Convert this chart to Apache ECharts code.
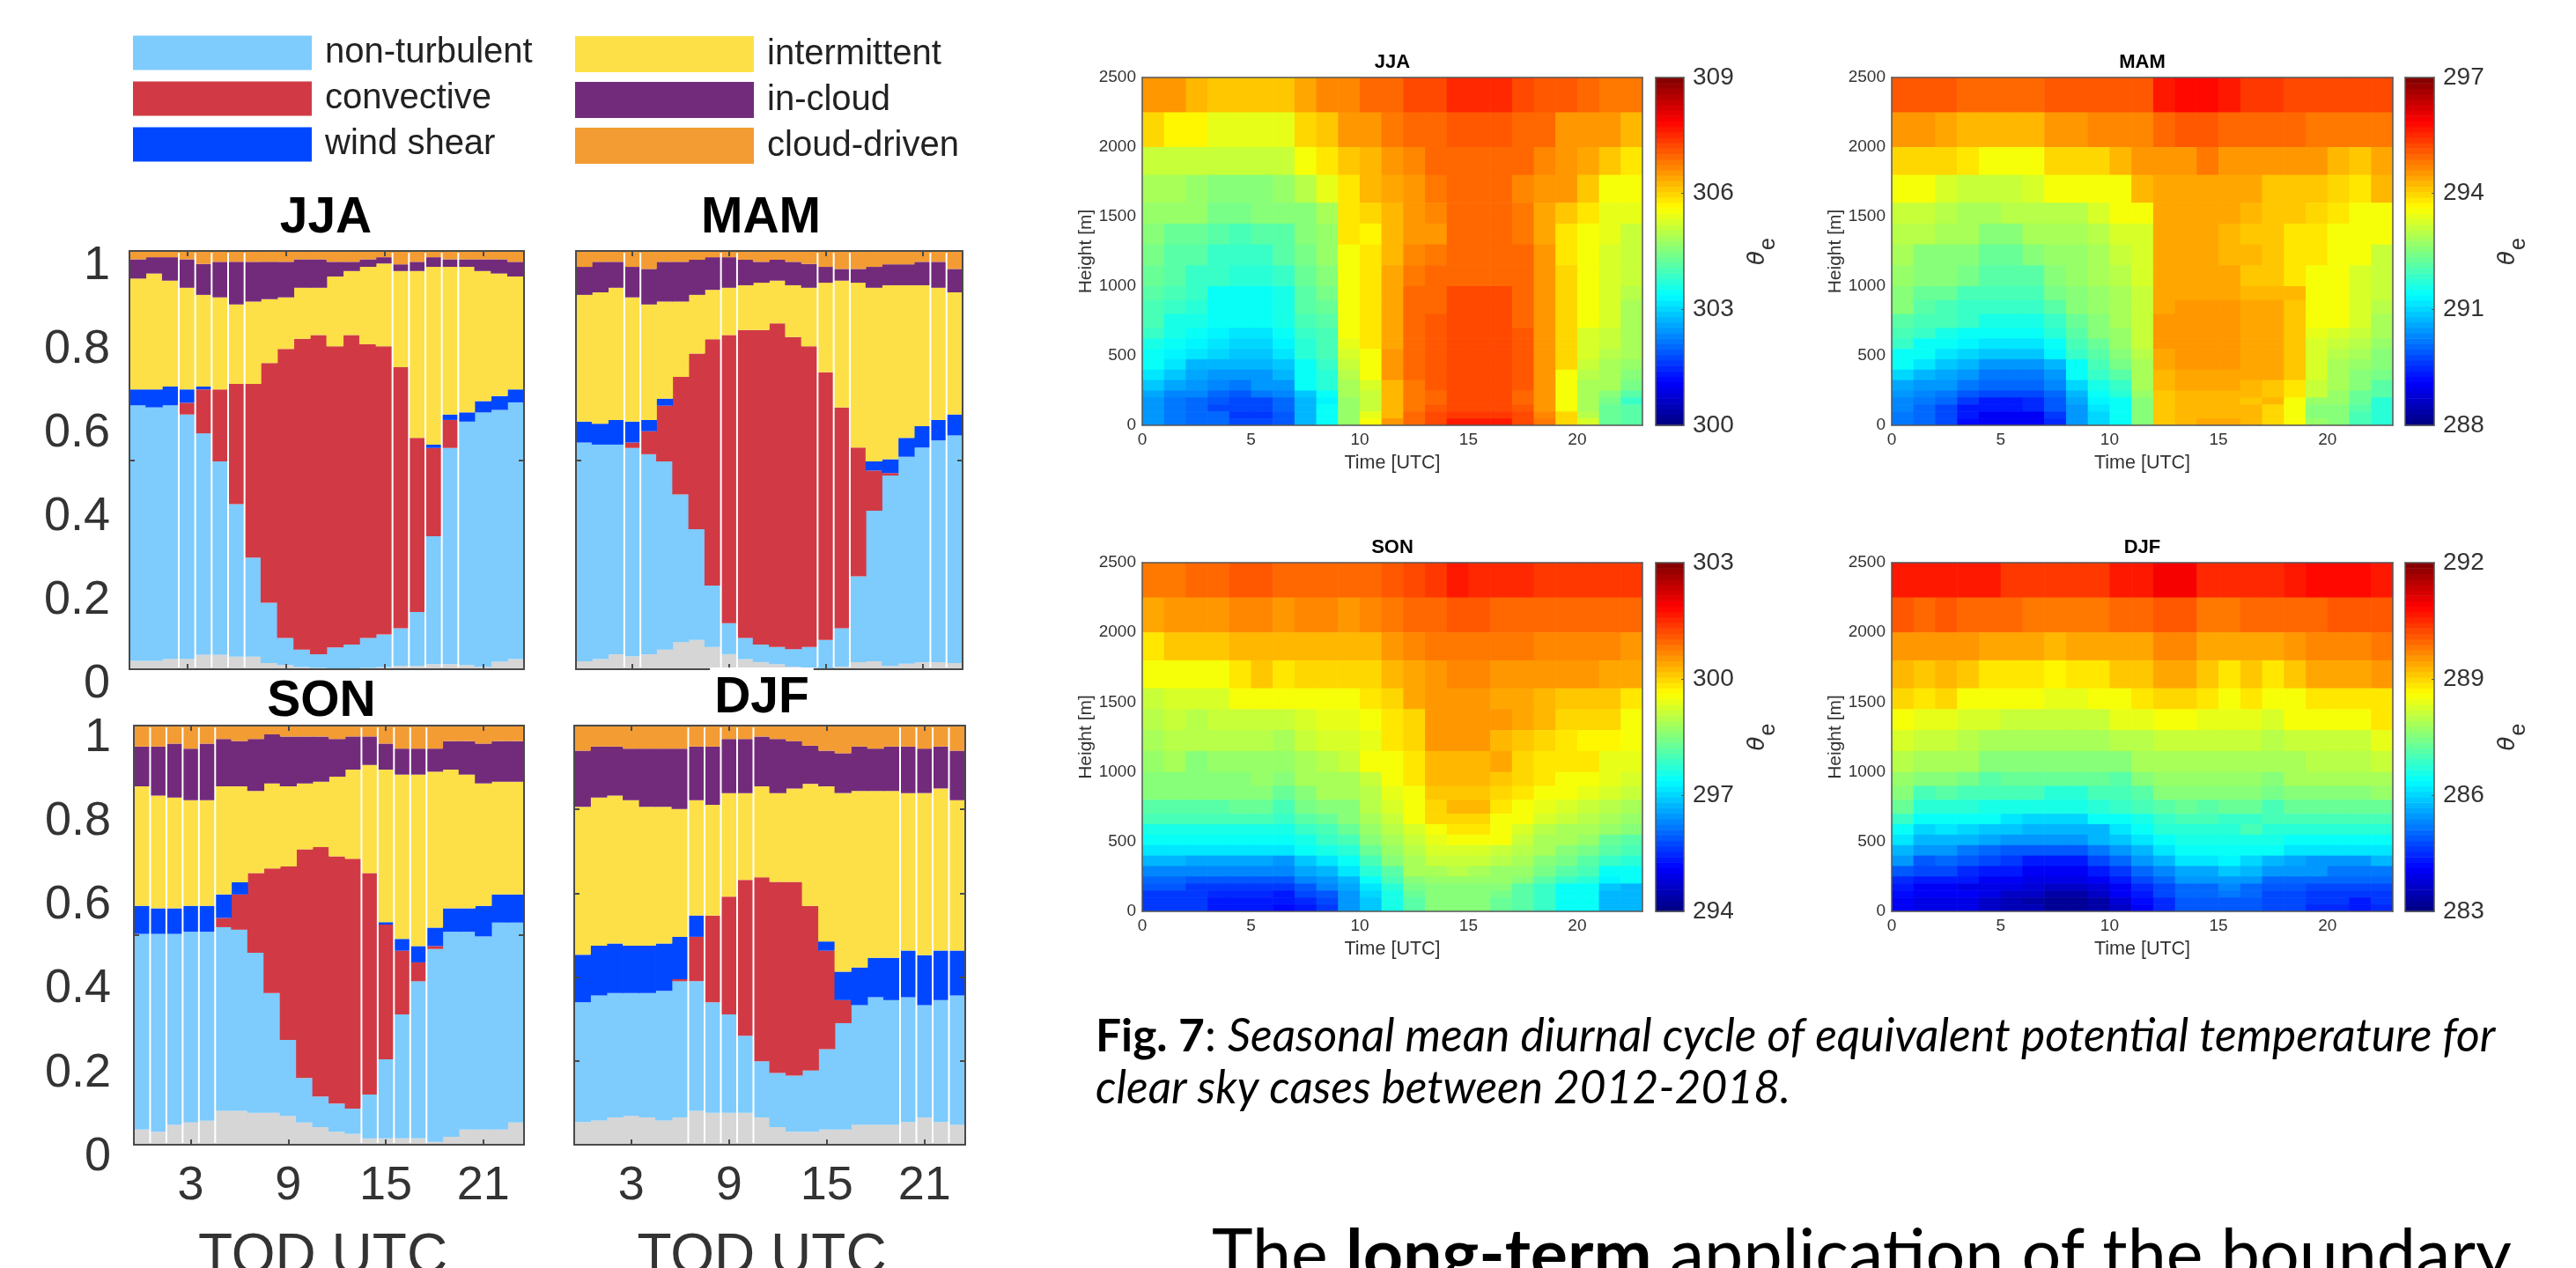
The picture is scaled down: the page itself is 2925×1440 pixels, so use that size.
<!DOCTYPE html>
<html><head><meta charset="utf-8">
<style>html,body{margin:0;padding:0;background:#fff;overflow:hidden}#c{width:2925px;height:1440px}</style>
<script src="https://cdn.jsdelivr.net/npm/echarts@6/dist/echarts.min.js"></script>
</head><body><div id="c"></div>
<script>
const hours=[0,1,2,3,4,5,6,7,8,9,10,11,12,13,14,15,16,17,18,19,20,21,22,23];
const seasons=['JJA','MAM','SON','DJF'];
const typeNames=['non-turbulent','convective','wind shear','intermittent','in-cloud','cloud-driven'];
const yTickLabels=[0,0.2,0.4,0.6,0.8,1];
const xTickLabels=[3,9,15,21];
const heatXTicks=[0,5,10,15,20];
const heatYTicks=[0,500,1000,1500,2000,2500];

// cumulative upper edge of each stacked class
const jjaGray=[.02,.02,.025,.025,.035,.035,.03,.03,.015,.01,.005,.003,0,0,.003,.005,.008,.008,.012,.012,.01,.006,.018,.024];
const jjaNonTurb=[.631,.626,.631,.609,.564,.497,.395,.267,.159,.075,.047,.036,.052,.059,.075,.083,.098,.137,.318,.529,.592,.614,.620,.638];
const jjaConv=[.631,.626,.631,.637,.669,.669,.682,.682,.732,.766,.790,.799,.772,.799,.777,.772,.722,.553,.529,.596,.592,.614,.620,.638];
const jjaShear=[.669,.669,.676,.669,.676,.669,.682,.682,.732,.766,.790,.799,.772,.799,.777,.772,.722,.553,.537,.609,.614,.641,.653,.669];
const jjaInter=[.934,.946,.929,.912,.895,.889,.872,.879,.885,.889,.912,.912,.939,.952,.962,.970,.952,.952,.962,.962,.962,.952,.946,.939];
const jjaCloud=[.980,.985,.985,.980,.969,.974,.974,.974,.974,.974,.980,.980,.974,.974,.980,.985,.968,.974,.985,.980,.980,.980,.980,.974];

const mamGray=[.019,.024,.036,.031,.036,.047,.065,.070,.053,.036,.024,.017,.012,.006,.004,.002,.006,.017,.019,.008,.013,.017,.017,.015];
const mamNonTurb=[.542,.537,.537,.529,.514,.497,.418,.335,.200,.110,.075,.059,.053,.048,.053,.070,.098,.222,.379,.463,.508,.530,.547,.559];
const mamConv=[.542,.537,.537,.542,.569,.630,.699,.755,.789,.799,.811,.811,.827,.794,.772,.710,.626,.530,.475,.469,.508,.530,.547,.559];
const mamShear=[.592,.587,.596,.592,.596,.647,.699,.755,.789,.799,.811,.811,.827,.794,.772,.710,.626,.530,.497,.502,.553,.581,.596,.609];
const mamInter=[.895,.901,.912,.889,.872,.879,.879,.895,.907,.912,.918,.924,.929,.918,.912,.924,.929,.924,.912,.918,.918,.918,.912,.901];
const mamCloud=[.962,.974,.974,.962,.957,.974,.974,.979,.985,.985,.979,.974,.979,.974,.969,.962,.957,.957,.962,.968,.968,.974,.974,.957];

const sonGray=[.036,.031,.048,.053,.057,.081,.081,.076,.076,.069,.053,.042,.031,.026,.015,.015,.015,.015,.007,.019,.036,.036,.036,.053];
const sonNonTurb=[.503,.503,.503,.508,.508,.519,.513,.458,.362,.250,.159,.115,.098,.086,.120,.204,.311,.390,.467,.508,.508,.497,.530,.530];
const sonConv=[.503,.503,.503,.508,.508,.541,.597,.648,.659,.664,.705,.710,.688,.682,.648,.525,.463,.435,.474,.508,.508,.497,.530,.530];
const sonShear=[.570,.564,.564,.570,.570,.597,.626,.648,.659,.664,.705,.710,.688,.682,.648,.531,.491,.474,.518,.564,.564,.570,.597,.597];
const sonInter=[.855,.833,.828,.822,.822,.855,.855,.844,.862,.855,.862,.866,.878,.895,.906,.895,.883,.883,.890,.895,.883,.862,.866,.866];
const sonCloud=[.950,.950,.957,.945,.957,.968,.963,.968,.979,.974,.974,.974,.968,.974,.974,.957,.945,.945,.945,.963,.963,.957,.963,.963];

const djfGray=[.054,.058,.065,.069,.065,.058,.065,.081,.076,.076,.076,.065,.042,.031,.031,.036,.036,.048,.048,.048,.054,.065,.054,.048];
const djfNonTurb=[.340,.356,.362,.362,.362,.367,.390,.390,.340,.311,.260,.199,.171,.165,.177,.228,.290,.333,.352,.345,.352,.333,.345,.356];
const djfConv=[.340,.356,.362,.362,.362,.367,.395,.496,.547,.592,.632,.638,.627,.627,.570,.463,.345,.333,.352,.345,.352,.333,.345,.356];
const djfShear=[.453,.475,.480,.475,.475,.480,.496,.547,.547,.592,.632,.638,.627,.627,.570,.485,.413,.423,.446,.446,.463,.452,.463,.463];
const djfInter=[.806,.828,.833,.822,.806,.806,.801,.822,.811,.839,.839,.855,.839,.850,.861,.855,.839,.844,.844,.844,.839,.839,.850,.822];
const djfCloud=[.940,.950,.950,.945,.945,.945,.945,.950,.950,.968,.968,.974,.968,.963,.952,.940,.934,.950,.945,.950,.950,.945,.950,.940];

// bars whose left edge shows a white seam
const jjaSeams=[3,4,5,6,7,16,17,18,19,20];
const mamSeams=[3,4,9,10,15,16,17,22,23];
const sonSeams=[1,2,3,4,5,14,15,16,17,18];
const djfSeams=[7,8,9,10,11,20,21,22,23];

// heat map cell edges (height rows listed top-down)
const heightEdges=[2500,2250,2000,1800,1600,1450,1300,1150,1000,900,800,700,625,550,475,400,325,250,200,150,100,50,0];
const timeEdges=[0,1,2,3,4,5,6,7,8,9,10,11,12,13,14,15,16,17,18,19,20,21,22,23];

const jjaTheta=[
[306.5,306.5,306.3,306.1,306.1,306.1,306.1,306.4,306.7,306.7,306.9,307.0,307.2,307.2,307.5,307.5,307.5,307.3,307.1,307.1,306.9,306.8,306.8],
[306.0,305.7,305.7,305.4,305.4,305.4,305.4,306.0,306.1,306.5,306.6,306.8,306.9,307.0,307.1,307.1,307.1,307.0,306.9,306.6,306.6,306.5,306.3],
[305.1,305.1,305.1,305.1,305.1,305.1,305.1,305.5,305.9,306.1,306.3,306.6,306.7,306.9,306.9,306.9,306.9,306.9,306.7,306.5,306.4,306.1,305.8],
[304.9,304.9,304.7,304.6,304.6,304.6,304.7,305.0,305.4,305.8,306.3,306.4,306.6,306.8,306.9,306.9,306.9,306.7,306.6,306.5,306.1,305.6,305.6],
[304.7,304.7,304.7,304.4,304.4,304.5,304.5,304.6,304.9,305.8,306.0,306.2,306.6,306.7,306.9,306.9,306.9,306.8,306.4,306.1,305.8,305.4,305.4],
[304.6,304.3,304.3,304.2,304.0,304.2,304.2,304.5,304.7,305.8,305.7,306.2,306.6,306.6,306.9,306.9,306.9,306.8,306.4,305.9,305.5,305.4,305.2],
[304.4,304.1,304.1,303.9,303.9,303.9,304.2,304.4,304.7,305.6,305.8,306.2,306.7,306.8,306.9,306.9,306.9,306.9,306.5,305.9,305.5,305.3,305.1],
[304.3,304.1,303.8,303.8,303.7,303.7,303.8,304.3,304.5,305.6,305.8,306.4,306.8,307.0,307.0,307.0,307.0,306.9,306.5,306.0,305.5,305.3,305.1],
[304.2,304.0,303.8,303.5,303.5,303.5,303.6,304.2,304.4,305.6,305.8,306.4,306.9,307.0,307.2,307.2,307.2,306.9,306.5,306.0,305.5,305.3,305.0],
[304.0,303.9,303.7,303.5,303.5,303.5,303.6,304.1,304.3,305.6,305.8,306.4,306.9,307.0,307.3,307.3,307.3,307.0,306.5,306.0,305.5,305.3,304.9],
[304.0,303.6,303.6,303.5,303.4,303.4,303.6,304.0,304.2,305.6,305.8,306.4,306.9,307.1,307.3,307.3,307.3,307.0,306.5,306.0,305.5,305.3,304.9],
[303.8,303.6,303.4,303.3,303.2,303.2,303.4,303.8,304.0,305.5,305.9,306.4,307.0,307.1,307.3,307.3,307.3,307.1,306.5,306.0,305.3,305.2,304.9],
[303.6,303.4,303.3,303.1,303.0,303.0,303.3,303.7,304.0,305.4,305.9,306.4,307.0,307.1,307.3,307.3,307.3,307.1,306.5,306.0,305.3,305.1,304.8],
[303.5,303.3,303.2,303.0,302.9,302.9,303.1,303.7,304.0,305.3,305.6,306.5,307.0,307.1,307.3,307.3,307.3,307.1,306.5,306.0,305.3,305.0,304.8],
[303.4,303.1,302.8,302.8,302.8,302.8,302.9,303.5,303.8,305.1,305.6,306.5,307.0,307.1,307.3,307.3,307.3,307.1,306.5,306.0,305.1,304.8,304.7],
[303.1,302.9,302.6,302.5,302.5,302.5,302.8,303.4,303.7,305.0,305.6,306.5,307.0,307.1,307.3,307.3,307.3,307.1,306.5,305.5,305.0,304.8,304.6],
[302.9,302.6,302.5,302.3,302.2,302.4,302.5,303.4,303.7,304.9,305.3,306.2,306.8,307.1,307.3,307.3,307.3,307.1,306.5,305.5,304.9,304.8,304.4],
[302.6,302.3,302.3,302.0,301.9,302.2,302.3,302.9,303.5,304.8,305.2,306.2,306.8,307.0,307.3,307.3,307.3,307.0,306.5,305.6,304.8,304.6,304.2],
[302.5,302.2,302.1,301.9,301.8,301.8,302.0,302.8,303.3,304.7,305.1,306.2,306.8,307.0,307.3,307.3,307.3,307.0,306.5,305.6,304.8,304.4,303.9],
[302.4,302.2,302.1,301.8,301.7,301.7,302.0,302.7,303.4,304.7,305.2,306.2,306.8,307.1,307.3,307.3,307.3,307.1,306.6,305.6,304.8,304.3,304.2],
[302.4,302.2,302.0,302.0,301.6,301.6,301.9,302.7,303.4,304.7,305.4,306.2,306.9,307.2,307.4,307.4,307.4,307.2,306.7,306.0,305.0,304.3,304.2],
[302.4,302.2,302.0,302.0,301.7,301.7,301.9,302.7,303.4,304.7,305.6,306.5,307.0,307.3,307.6,307.6,307.6,307.2,306.8,306.0,305.3,304.3,304.2]];

const mamTheta=[
[295.1,295.1,295.1,295.0,295.0,295.0,295.0,295.1,295.1,295.1,295.1,295.1,295.6,295.8,295.8,295.6,295.4,295.4,295.3,295.3,295.3,295.3,295.3],
[294.5,294.5,294.4,294.3,294.3,294.3,294.3,294.5,294.5,294.7,294.7,294.7,295.0,295.1,295.1,295.0,294.9,294.9,294.9,294.8,294.8,294.8,294.8],
[294.0,294.0,294.0,293.8,293.6,293.6,293.6,294.0,294.0,294.0,294.3,294.5,294.5,294.5,294.8,294.6,294.6,294.5,294.5,294.5,294.3,294.1,294.4],
[293.5,293.5,293.3,293.2,293.2,293.2,293.3,293.5,293.5,293.5,293.6,294.3,294.4,294.4,294.4,294.4,294.4,294.1,294.1,294.1,294.0,293.8,294.2],
[293.2,293.2,293.0,292.9,292.9,293.0,293.0,293.0,293.0,293.3,293.5,293.6,294.4,294.4,294.4,294.4,294.3,294.1,294.1,294.0,293.8,293.6,293.6],
[293.0,293.0,292.8,292.8,292.6,292.6,292.8,292.8,292.9,293.0,293.3,293.3,294.4,294.4,294.4,294.2,294.1,294.1,293.9,293.8,293.6,293.5,293.5],
[292.8,292.6,292.6,292.5,292.3,292.3,292.5,292.7,292.7,292.9,293.1,293.3,294.4,294.4,294.4,294.2,294.2,294.1,293.9,293.8,293.5,293.5,293.2],
[292.7,292.5,292.5,292.4,292.2,292.2,292.2,292.6,292.7,292.8,293.0,293.3,294.4,294.4,294.4,294.4,294.1,294.1,293.9,293.6,293.5,293.3,293.2],
[292.6,292.3,292.3,292.0,292.0,292.0,292.0,292.4,292.6,292.7,292.9,293.2,294.4,294.4,294.4,294.4,294.2,294.2,294.2,293.6,293.5,293.3,293.1],
[292.5,292.2,292.0,291.8,291.8,291.8,291.8,292.2,292.5,292.7,292.9,293.2,294.4,294.6,294.6,294.6,294.4,294.4,294.1,293.6,293.5,293.3,293.0],
[292.2,292.0,292.0,291.8,291.6,291.6,291.6,291.8,292.3,292.6,292.8,293.2,294.6,294.6,294.6,294.6,294.4,294.4,294.1,293.5,293.5,293.3,292.9],
[292.0,291.8,291.6,291.4,291.4,291.4,291.5,291.7,292.2,292.5,292.7,293.2,294.6,294.6,294.6,294.6,294.4,294.4,294.1,293.4,293.3,293.1,292.9],
[291.8,291.5,291.4,291.3,291.1,291.1,291.1,291.5,292.0,292.3,292.7,293.1,294.6,294.6,294.6,294.6,294.4,294.4,294.1,293.3,293.2,293.0,292.7],
[291.5,291.4,291.2,291.0,290.9,290.9,290.9,291.3,291.8,292.2,292.6,293.0,294.4,294.6,294.6,294.6,294.4,294.4,294.1,293.3,293.0,292.8,292.6],
[291.4,291.1,290.9,290.7,290.5,290.5,290.5,290.8,291.5,292.0,292.4,292.9,294.4,294.5,294.5,294.5,294.4,294.4,294.1,293.3,292.9,292.7,292.5],
[291.0,290.8,290.6,290.4,290.2,290.2,290.2,290.5,291.4,291.8,292.2,292.9,294.2,294.4,294.4,294.4,294.4,294.4,294.1,293.3,292.9,292.6,292.4],
[290.6,290.5,290.4,290.2,290.0,290.0,290.0,290.3,291.0,291.6,291.9,292.8,294.2,294.4,294.4,294.4,294.2,294.1,293.8,293.2,292.8,292.5,292.2],
[290.4,290.3,290.2,289.9,289.7,289.7,289.7,290.0,290.8,291.4,291.7,292.7,294.1,294.3,294.3,294.3,294.3,294.1,293.8,293.1,292.7,292.3,292.2],
[290.3,290.2,290.0,289.6,289.4,289.4,289.5,289.9,290.6,291.3,291.5,292.6,294.1,294.2,294.2,294.2,294.1,294.2,293.6,292.7,292.7,292.3,291.7],
[290.3,290.1,289.8,289.4,289.3,289.3,289.5,289.9,290.5,291.2,291.4,292.6,294.1,294.2,294.2,294.2,294.2,294.0,293.6,292.6,292.6,292.2,291.7],
[290.2,290.0,289.8,289.3,289.1,289.1,289.1,289.6,290.4,291.0,291.4,292.6,294.1,294.2,294.2,294.2,294.2,294.0,293.6,292.6,292.5,292.0,291.7],
[290.2,290.0,289.7,289.2,289.0,289.0,289.0,289.5,290.4,291.0,291.4,292.6,294.1,294.2,294.4,294.4,294.2,294.0,293.6,292.7,292.6,292.0,291.7]];

const sonTheta=[
[300.8,300.8,300.9,300.9,301.1,301.1,301.0,301.0,301.0,301.0,301.0,301.1,301.3,301.4,301.6,301.5,301.5,301.5,301.4,301.4,301.4,301.4,301.4],
[300.4,300.5,300.5,300.5,300.7,300.7,300.6,300.7,300.7,300.6,300.7,300.8,300.9,301.0,301.1,301.1,301.0,301.0,301.0,301.0,301.0,301.0,301.0],
[299.9,300.1,300.1,300.1,300.3,300.3,300.3,300.3,300.3,300.3,300.3,300.6,300.7,300.85,300.85,300.85,300.85,300.85,300.7,300.7,300.7,300.7,300.6],
[299.5,299.6,299.6,299.6,299.8,300.1,299.9,300.0,300.0,300.0,300.0,300.3,300.4,300.6,300.7,300.7,300.6,300.6,300.5,300.5,300.5,300.4,300.4],
[299.2,299.3,299.3,299.3,299.5,299.5,299.5,299.6,299.6,299.6,299.8,300.0,300.4,300.6,300.6,300.6,300.4,300.4,300.3,300.1,300.1,300.1,299.9],
[299.0,299.2,299.0,299.1,299.1,299.1,299.1,299.3,299.4,299.4,299.6,299.8,300.0,300.5,300.5,300.5,300.5,300.4,300.2,300.0,300.0,300.0,299.6],
[298.8,299.0,299.0,299.0,299.0,299.0,298.8,299.2,299.3,299.3,299.4,299.8,300.0,300.5,300.5,300.5,300.3,300.1,300.0,299.8,299.7,299.7,299.6],
[298.7,298.8,298.6,298.7,298.7,298.7,298.7,298.9,299.0,299.2,299.5,299.6,299.9,300.3,300.3,300.3,300.4,300.0,299.8,299.8,299.8,299.4,299.4],
[298.6,298.6,298.6,298.6,298.6,298.7,298.5,298.8,298.9,298.9,299.1,299.5,299.8,300.3,300.3,300.3,300.1,300.0,299.8,299.6,299.6,299.4,299.3],
[298.5,298.5,298.5,298.5,298.5,298.5,298.3,298.6,298.8,298.8,299.0,299.4,299.6,300.1,300.1,300.1,300.0,299.8,299.6,299.5,299.4,299.3,299.1],
[298.2,298.2,298.2,298.2,298.3,298.3,298.0,298.4,298.6,298.6,299.0,299.3,299.6,300.0,300.2,300.2,299.9,299.6,299.4,299.3,299.2,299.0,298.8],
[297.95,297.95,297.95,297.95,297.95,297.95,297.8,298.1,298.3,298.5,298.8,299.2,299.5,300.0,300.0,300.0,299.6,299.6,299.3,299.1,299.0,298.9,298.7],
[297.6,297.6,297.6,297.6,297.6,297.6,297.6,297.8,298.0,298.3,298.7,299.0,299.3,299.6,299.8,299.8,299.6,299.3,299.0,298.9,298.9,298.7,298.5],
[297.4,297.4,297.4,297.4,297.4,297.4,297.4,297.6,297.9,298.0,298.6,298.9,299.2,299.4,299.6,299.6,299.5,299.2,298.9,298.8,298.7,298.3,298.2],
[297.1,297.1,297.1,297.1,297.1,297.1,297.1,297.4,297.6,297.7,298.3,298.7,299.0,299.3,299.3,299.3,299.1,299.0,298.8,298.6,298.4,298.1,298.0],
[296.8,296.8,296.6,296.6,296.6,296.6,296.5,296.9,297.2,297.4,298.0,298.5,298.9,299.1,299.1,299.1,299.0,298.8,298.6,298.4,298.2,297.8,297.7],
[296.3,296.3,296.3,296.3,296.3,296.3,296.3,296.6,296.8,297.1,297.7,298.2,298.8,298.9,299.0,298.8,298.7,298.7,298.4,298.2,298.0,297.5,297.5],
[296.0,296.0,295.9,295.9,295.9,295.9,295.9,296.3,296.5,296.8,297.4,298.0,298.6,298.7,298.7,298.7,298.7,298.6,298.2,297.9,297.7,297.3,297.4],
[295.9,295.9,295.6,295.6,295.6,295.6,295.6,295.9,296.3,296.6,297.2,297.7,298.4,298.6,298.6,298.6,298.5,298.2,297.8,297.5,297.5,296.9,296.8],
[295.6,295.6,295.6,295.5,295.5,295.5,295.4,295.7,295.9,296.5,297.0,297.6,298.3,298.6,298.6,298.6,298.4,298.2,297.8,297.5,297.4,296.8,296.7],
[295.6,295.6,295.6,295.4,295.4,295.4,295.3,295.5,295.7,296.4,296.9,297.6,298.2,298.6,298.6,298.6,298.3,298.1,297.8,297.5,297.4,296.8,296.7],
[295.6,295.6,295.6,295.4,295.4,295.4,295.2,295.3,295.6,296.4,296.9,297.6,298.2,298.6,298.6,298.6,298.3,298.2,297.8,297.5,297.4,296.8,296.7]];

const djfTheta=[
[290.7,290.7,290.7,290.6,290.6,290.4,290.4,290.4,290.4,290.4,290.6,290.6,290.9,290.9,290.5,290.5,290.5,290.5,290.6,290.8,290.8,290.8,290.6],
[290.1,290.0,290.1,289.9,289.9,289.9,289.8,289.8,289.8,289.8,289.9,289.9,290.1,290.1,289.8,289.8,289.9,289.9,289.9,290.0,290.1,290.1,290.1],
[289.55,289.55,289.55,289.5,289.4,289.4,289.4,289.3,289.45,289.45,289.45,289.45,289.7,289.7,289.45,289.45,289.45,289.45,289.6,289.65,289.65,289.65,289.75],
[289.3,289.1,289.3,289.1,288.9,288.9,288.9,288.7,288.9,288.9,289.1,289.1,289.4,289.4,289.1,288.9,289.1,288.9,289.1,289.4,289.4,289.4,289.5],
[289.0,288.8,289.0,288.6,288.6,288.6,288.6,288.4,288.4,288.6,288.6,288.9,289.0,289.0,288.8,288.6,288.8,288.6,288.6,288.9,288.9,288.9,288.9],
[288.6,288.4,288.4,288.3,288.3,288.2,288.2,288.2,288.2,288.2,288.4,288.4,288.6,288.6,288.4,288.4,288.4,288.3,288.5,288.6,288.6,288.6,288.8],
[288.3,288.1,288.2,288.0,287.9,287.9,287.9,287.9,287.9,287.9,288.0,288.0,288.1,288.1,288.1,288.1,288.1,288.0,288.2,288.2,288.2,288.2,288.4],
[288.0,287.8,287.9,287.8,287.6,287.5,287.5,287.5,287.5,287.6,287.6,287.8,287.9,287.9,287.9,287.9,287.9,287.8,287.9,288.0,288.0,288.0,288.2],
[287.7,287.5,287.6,287.4,287.2,287.3,287.3,287.3,287.3,287.3,287.2,287.5,287.7,287.7,287.7,287.7,287.7,287.5,287.8,287.8,287.8,287.8,287.8],
[287.6,287.0,287.2,287.0,287.0,287.0,287.0,286.7,286.7,286.95,286.95,287.1,287.6,287.6,287.6,287.6,287.6,287.4,287.5,287.5,287.5,287.5,287.7],
[287.3,286.7,286.7,286.7,286.6,286.6,286.6,286.6,286.6,286.7,286.8,286.95,287.2,287.3,287.2,287.3,287.3,287.0,287.3,287.3,287.3,287.3,287.3],
[286.8,286.5,286.5,286.5,286.4,286.2,286.0,286.0,286.0,286.4,286.5,286.6,286.8,286.95,287.0,286.9,286.9,287.0,287.0,287.0,287.0,287.0,287.0],
[286.4,286.0,286.2,286.0,285.9,285.9,285.8,285.8,285.8,285.8,286.1,286.4,286.7,286.7,286.7,286.7,286.95,286.7,286.7,286.7,286.7,286.7,286.7],
[286.2,285.8,285.8,285.7,285.6,285.4,285.4,285.4,285.4,285.7,285.9,286.1,286.4,286.6,286.6,286.6,286.6,286.6,286.4,286.4,286.4,286.4,286.4],
[285.7,285.4,285.4,285.2,285.1,284.9,284.9,284.9,284.9,285.2,285.4,285.7,286.1,286.4,286.4,286.4,286.4,286.4,286.1,286.1,286.1,286.1,286.1],
[285.4,284.9,285.1,284.9,284.8,284.6,284.4,284.4,284.4,284.8,285.1,285.4,285.7,286.1,286.1,286.3,286.0,285.8,285.6,285.4,285.4,285.4,285.8],
[284.9,284.7,284.7,284.5,284.3,284.3,284.1,284.1,284.1,284.3,284.6,285.0,285.3,285.6,285.6,285.9,285.7,285.4,285.4,285.4,285.2,285.2,285.2],
[284.5,284.3,284.3,284.3,284.1,284.1,283.9,283.9,283.9,284.1,284.3,284.8,285.1,285.4,285.4,285.5,285.4,285.1,285.1,285.1,285.0,285.0,285.0],
[284.3,284.1,284.1,283.9,283.9,283.9,283.8,283.6,283.6,283.8,284.1,284.5,284.8,285.1,285.1,285.3,285.1,284.9,284.9,284.8,284.8,284.7,284.7],
[284.2,284.0,284.0,284.0,283.9,283.6,283.6,283.4,283.4,283.7,284.0,284.3,284.7,285.1,285.1,285.2,285.0,284.8,284.8,284.6,284.6,284.6,284.6],
[284.1,283.9,283.9,283.9,283.6,283.5,283.4,283.25,283.25,283.3,283.8,284.2,284.5,284.9,284.9,284.9,284.9,284.7,284.7,284.6,284.6,284.3,284.6],
[284.1,283.9,283.9,283.9,283.6,283.45,283.45,283.2,283.2,283.3,283.7,284.1,284.5,284.9,284.9,284.9,284.9,284.7,284.7,284.5,284.5,284.3,284.5]];

const FONT='"Liberation Sans",Arial,sans-serif';
const INK='#333';
const FRAME='#4a4a4a';
const classColors=['#7ecbfd','#d13a45','#0047ff','#fde047','#722b7b','#f39c33'];
const GRAY='#d6d6d6';

function jet(v,min,max){
  let i=Math.floor((v-min)/(max-min)*64);i=Math.max(0,Math.min(63,i));
  const t=(i+.5)/64,c=x=>Math.round(255*Math.max(0,Math.min(1,x)));
  return 'rgb('+c(Math.min(4*t-1.5,-4*t+4.5))+','+c(Math.min(4*t-.5,-4*t+3.5))+','+c(Math.min(4*t+.5,-4*t+2.5))+')';
}

const grid=[],xAxis=[],yAxis=[],series=[],title=[];
const line={show:true,onZero:false,lineStyle:{color:FRAME,width:2}};
const showTick=(i)=>xTickLabels.indexOf(i)>=0;

function stackPanel(o){
  const g=grid.length;
  grid.push({left:o.left,top:o.top,width:o.width,height:o.height,containLabel:false,outerBoundsMode:'none'});
  const xi=xAxis.length,yi=yAxis.length;
  const tickX={show:true,inside:true,length:6,alignWithLabel:true,interval:showTick,lineStyle:{color:FRAME,width:2}};
  xAxis.push({gridIndex:g,type:'category',data:hours,position:'bottom',z:6,axisLine:line,axisTick:tickX,splitLine:{show:false},
    name:o.xName?'TOD UTC':'',nameLocation:'middle',nameGap:o.xNameGap||0,nameTextStyle:{fontFamily:FONT,fontSize:64,color:INK,padding:[0,o.xNamePad||0,0,0]},
    axisLabel:{show:!!o.xLabels,interval:showTick,fontFamily:FONT,fontSize:54,color:INK,margin:20}});
  xAxis.push({gridIndex:g,type:'category',data:hours,position:'top',z:6,axisLine:line,axisTick:tickX,axisLabel:{show:false},splitLine:{show:false}});
  const tickY={show:true,inside:true,length:6,customValues:o.yTicks,lineStyle:{color:FRAME,width:2}};
  yAxis.push({gridIndex:g,type:'value',min:0,max:1,position:'left',z:6,axisLine:line,axisTick:tickY,splitLine:{show:false},
    axisLabel:{show:!!o.yLabels,customValues:yTickLabels,fontFamily:FONT,fontSize:54,color:INK,margin:o.yMargin||22,verticalAlign:'top',lineHeight:o.yLH||33,
      formatter:v=>String(+(+v).toFixed(1))}});
  yAxis.push({gridIndex:g,type:'value',min:0,max:1,position:'right',z:6,axisLine:line,axisTick:tickY,axisLabel:{show:false},splitLine:{show:false}});
  const layers=[o.gray].concat(o.tops);
  const cols=[GRAY].concat(classColors);
  const bw=o.width/24+0.8;
  layers.forEach((top,j)=>{
    const below=j?layers[j-1]:hours.map(()=>0);
    series.push({type:'bar',name:j?typeNames[j-1]:'no signal',stack:o.name,xAxisIndex:xi,yAxisIndex:yi,barWidth:bw,silent:true,
      itemStyle:{color:cols[j]},z:2,data:top.map((v,i)=>+(v-below[i]).toFixed(3))});
  });
  // remainder up to 1 is the cloud-driven class
  series.push({type:'bar',name:typeNames[5],stack:o.name,xAxisIndex:xi,yAxisIndex:yi,barWidth:bw,silent:true,
    itemStyle:{color:classColors[5]},z:2,data:o.tops[4].map(v=>+(1-v).toFixed(3))});
  series.push({type:'custom',xAxisIndex:xi,yAxisIndex:yi,silent:true,z:3,clip:true,data:o.seams.map(k=>[k,1]),
    renderItem:(p,api)=>{
      const w=api.size([1,0])[0];
      const top=api.coord([api.value(0),1]),bot=api.coord([api.value(0),0]);
      const x=top[0]-w/2;
      return {type:'line',shape:{x1:x,y1:top[1]+2,x2:x,y2:bot[1]-2},style:{stroke:'#fff',lineWidth:2}};
    }});
  title.push({text:o.name,left:o.titleX,top:o.titleY,textAlign:'center',backgroundColor:o.titleBg||'transparent',padding:o.titlePad||0,z:8,
    textStyle:{fontFamily:FONT,fontWeight:'bold',fontSize:57,color:'#000',lineHeight:57}});
}
const fr={show:true,onZero:false,lineStyle:{color:'#555',width:1.5}};
const plain=v=>String(v);
function heatPanel(o){
  const g=grid.length;
  grid.push({left:o.left,top:o.top,width:o.width,height:o.height,outerBoundsMode:'none'});
  const xi=xAxis.length,yi=yAxis.length;
  const base={fontFamily:FONT,fontSize:19,color:INK,formatter:plain};
  xAxis.push({gridIndex:g,type:'value',min:0,max:23,position:'bottom',z:6,axisLine:fr,axisTick:{show:false},splitLine:{show:false},
    axisLabel:Object.assign({customValues:heatXTicks,margin:7},base),
    name:'Time [UTC]',nameLocation:'middle',nameGap:32,nameTextStyle:{fontFamily:FONT,fontSize:21.5,color:INK}});
  xAxis.push({gridIndex:g,type:'value',min:0,max:23,position:'top',z:6,axisLine:fr,axisTick:{show:false},axisLabel:{show:false},splitLine:{show:false}});
  yAxis.push({gridIndex:g,type:'value',min:0,max:2500,position:'left',z:6,axisLine:fr,axisTick:{show:false},splitLine:{show:false},
    axisLabel:Object.assign({customValues:heatYTicks,margin:7},base),
    name:'Height [m]',nameLocation:'middle',nameGap:50,nameTextStyle:{fontFamily:FONT,fontSize:21,color:INK}});
  yAxis.push({gridIndex:g,type:'value',min:0,max:2500,position:'right',z:6,axisLine:fr,axisTick:{show:false},axisLabel:{show:false},splitLine:{show:false}});
  const cells=[];
  o.rows.forEach((row,r)=>row.forEach((v,c)=>{
    cells.push([timeEdges[c],c+1<timeEdges.length?timeEdges[c+1]:timeEdges[c]+1,heightEdges[r+1],heightEdges[r],v]);
  }));
  const cell=(p,api)=>{
    const a=api.coord([api.value(0),api.value(3)]),b=api.coord([api.value(1),api.value(2)]);
    return {type:'rect',shape:{x:a[0],y:a[1],width:b[0]-a[0]+.6,height:b[1]-a[1]+.6},style:{fill:jet(api.value(4),o.min,o.max)}};
  };
  series.push({type:'custom',xAxisIndex:xi,yAxisIndex:yi,silent:true,z:2,clip:true,data:cells,encode:{x:[0,1],y:[2,3]},renderItem:cell});
  title.push({text:o.name,left:o.left+o.width/2,top:o.top-28,padding:0,textAlign:'center',textStyle:{fontFamily:FONT,fontWeight:'bold',fontSize:22,color:'#000',lineHeight:22}});
  // colour bar
  const gb=grid.length;
  grid.push({left:o.cbLeft,top:o.top,width:o.cbWidth,height:o.height,outerBoundsMode:'none'});
  const xb=xAxis.length,yb=yAxis.length;
  [['bottom'],['top']].forEach(p=>xAxis.push({gridIndex:gb,type:'value',min:0,max:1,position:p[0],z:6,axisLine:fr,axisTick:{show:false},axisLabel:{show:false},splitLine:{show:false}}));
  const ticks=[o.min,o.min+3,o.min+6,o.max];
  yAxis.push({gridIndex:gb,type:'value',min:o.min,max:o.max,position:'right',z:6,axisLine:fr,axisTick:{show:true,inside:true,length:3,customValues:ticks.slice(1,3),lineStyle:{color:'#555'}},splitLine:{show:false},
    axisLabel:{customValues:ticks,margin:10,fontFamily:FONT,fontSize:28,color:INK,formatter:plain},
    name:'{t|θ}{s|e}',nameLocation:'middle',nameRotate:90,nameGap:o.cbGap,
    nameTextStyle:{rich:{t:{fontFamily:'"DejaVu Sans"',fontStyle:'italic',fontSize:26,color:INK},s:{fontFamily:FONT,fontSize:25,color:INK,padding:[24,0,0,1]}}}});
  yAxis.push({gridIndex:g+1,type:'value',min:o.min,max:o.max,position:'left',z:6,axisLine:fr,axisTick:{show:false},axisLabel:{show:false},splitLine:{show:false}});
  const step=(o.max-o.min)/64,levels=[];
  for(let i=0;i<64;i++)levels.push([0,1,o.min+i*step,o.min+(i+1)*step,o.min+(i+.5)*step]);
  series.push({type:'custom',xAxisIndex:xb,yAxisIndex:yb,silent:true,z:2,data:levels,encode:{x:[0,1],y:[2,3]},
    renderItem:(p,api)=>{
      const a=api.coord([0,api.value(3)]),b=api.coord([1,api.value(2)]);
      return {type:'rect',shape:{x:a[0],y:a[1],width:b[0]-a[0],height:b[1]-a[1]+.6},style:{fill:jet(api.value(4),o.min,o.max)}};
    }});
}

stackPanel({name:'JJA',left:147,top:285,width:448,height:475,gray:jjaGray,tops:[jjaNonTurb,jjaConv,jjaShear,jjaInter,jjaCloud],seams:jjaSeams,yTicks:[0,.5,1],yLabels:true,yLH:35,titleX:370,titleY:220});
stackPanel({name:'MAM',left:654,top:285,width:439,height:475,gray:mamGray,tops:[mamNonTurb,mamConv,mamShear,mamInter,mamCloud],seams:mamSeams,yTicks:[0,.5,1],titleX:864,titleY:220});
stackPanel({name:'SON',left:152,top:824,width:443,height:476,gray:sonGray,tops:[sonNonTurb,sonConv,sonShear,sonInter,sonCloud],seams:sonSeams,yTicks:[0,.5,1],yLabels:true,yLH:28,yMargin:26,xLabels:true,xName:true,xNameGap:96,xNamePad:14,titleX:365,titleY:769});
stackPanel({name:'DJF',left:652,top:824,width:444,height:476,gray:djfGray,tops:[djfNonTurb,djfConv,djfShear,djfInter,djfCloud],seams:djfSeams,yTicks:[0,.2,.4,.6,.8,1],xLabels:true,xName:true,xNameGap:96,xNamePad:18,titleX:860,titleY:758,titleBg:'#fff',titlePad:[7,5,0,5]});

heatPanel({name:'JJA',rows:jjaTheta,min:300,max:309,left:1297,top:88,width:568,height:395,cbLeft:1880,cbWidth:32,cbGap:60});
heatPanel({name:'MAM',rows:mamTheta,min:288,max:297,left:2148,top:88,width:569,height:395,cbLeft:2731,cbWidth:33,cbGap:60});
heatPanel({name:'SON',rows:sonTheta,min:294,max:303,left:1297,top:639,width:568,height:396,cbLeft:1880,cbWidth:32,cbGap:60});
heatPanel({name:'DJF',rows:djfTheta,min:283,max:292,left:2148,top:639,width:569,height:396,cbLeft:2731,cbWidth:33,cbGap:60});

const capW={fontFamily:'Lato',fontSize:51.5,color:'#000'};
const capRich={b:Object.assign({fontWeight:'bold'},capW),n:Object.assign({fontWeight:'normal'},capW),i:Object.assign({fontWeight:'normal',fontStyle:'italic'},capW)};
title.push({text:'{b|Fig. 7}{n|: }{i|Seasonal mean diurnal cycle of equivalent potential temperature for}',left:1244,top:1151,padding:0,textStyle:{rich:capRich}});
title.push({text:'{i|clear sky cases between 2012-2018.}',left:1244,top:1210,padding:0,textStyle:{rich:capRich}});
const bigW={fontFamily:'Lato',fontSize:79,color:'#000'};
const bigRich={n:Object.assign({fontWeight:'normal'},bigW),b:Object.assign({fontWeight:'bold'},bigW)};
title.push({text:'{n|The }{b|long-term}{n| application of the boundary}',left:1376,top:1387,padding:0,textStyle:{rich:bigRich}});

const legendBase={orient:'vertical',icon:'rect',selectedMode:false,padding:0,itemWidth:203,textStyle:{fontFamily:FONT,fontSize:40,color:'#222',padding:[0,0,0,10]}};
const legend=[
  Object.assign({},legendBase,{left:151,top:40,itemHeight:39,itemGap:12,data:typeNames.slice(0,3)}),
  Object.assign({},legendBase,{left:653,top:41,itemHeight:41,itemGap:11,data:typeNames.slice(3)})
];

const chart=echarts.init(document.getElementById('c'),null,{renderer:'canvas'});
chart.setOption({animation:false,backgroundColor:'#fff',tooltip:{show:false},title,legend,grid,xAxis,yAxis,series});
</script></body></html>
